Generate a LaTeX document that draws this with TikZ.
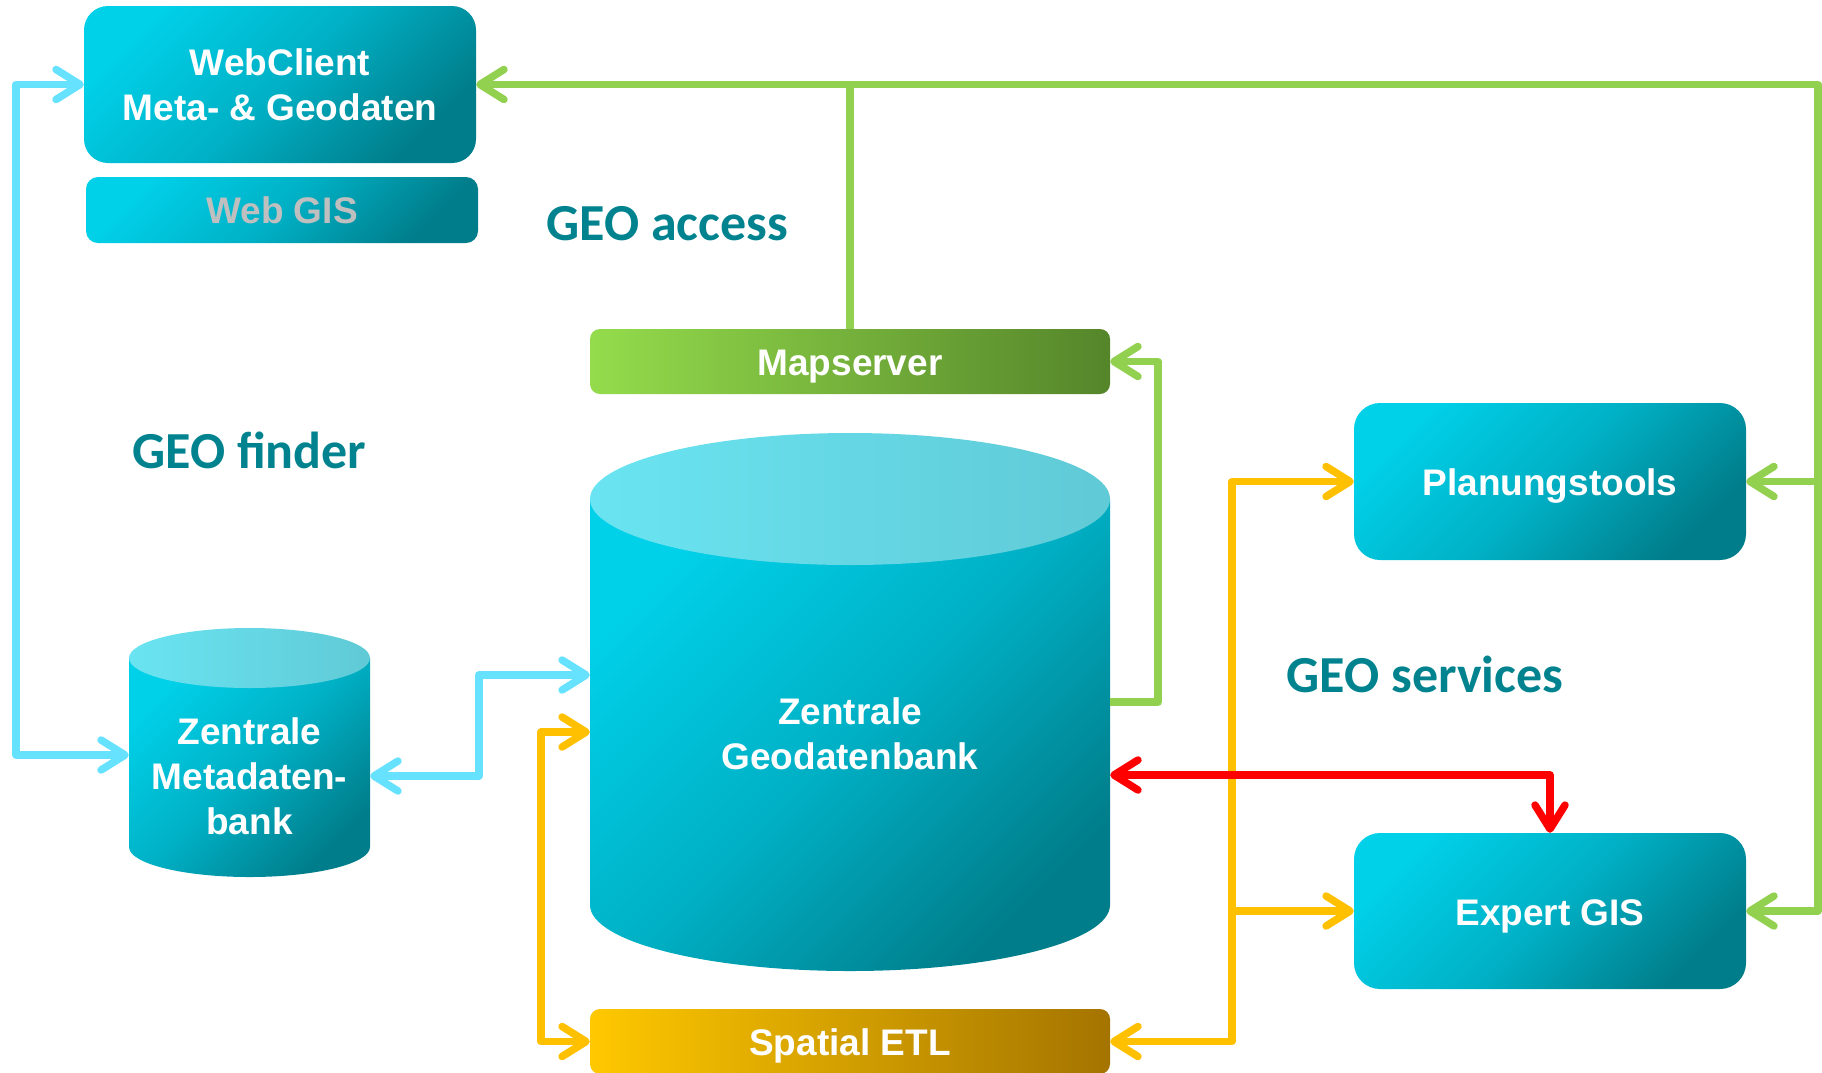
\documentclass[tikz,border=0pt]{standalone}
\usepackage{fontspec}
\setmainfont{Liberation Sans}
\newfontfamily\headfont{Carlito}
\usetikzlibrary{arrows.meta}

\definecolor{tealA}{HTML}{00D0E8}
\definecolor{tealB}{HTML}{00B0C5}
\definecolor{tealC}{HTML}{007D8A}
\definecolor{capA}{HTML}{6AE4F2}
\definecolor{capB}{HTML}{60CAD6}
\definecolor{mapA}{HTML}{94DC4C}
\definecolor{mapB}{HTML}{55852A}
\definecolor{etlA}{HTML}{FFC800}
\definecolor{etlB}{HTML}{A47400}
\definecolor{headC}{HTML}{00838F}
\definecolor{lnGreen}{HTML}{92D050}
\definecolor{lnBlue}{HTML}{66E2FF}
\definecolor{lnYellow}{HTML}{FFC000}
\definecolor{lnRed}{HTML}{FF0000}
\definecolor{gisGray}{HTML}{BFBFBF}

\begin{document}
\begin{tikzpicture}[x=1pt,y=-1pt,
  label text/.style={align=center, text=white, inner sep=0pt,
    font=\bfseries\fontsize{37}{45}\selectfont},
  oneline/.style={text height=28pt, text depth=0pt},
  tealbox/.style={label text, shade, top color=tealA, bottom color=tealC,
    middle color=tealB, shading angle=45, rounded corners=#1},
  tealbox/.default=26pt,
  mapbar/.style={label text, oneline, shade, left color=mapA, right color=mapB,
    rounded corners=10pt, minimum width=520pt, minimum height=65pt},
  etlbar/.style={label text, oneline, shade, left color=etlA, right color=etlB,
    rounded corners=10pt, minimum width=520pt, minimum height=65pt},
  cylbody/.style={shade, top color=tealA, bottom color=tealC,
    middle color=tealB, shading angle=45},
  cylcap/.style={shade, left color=capA, right color=capB},
  heading/.style={font=\headfont\bfseries\fontsize{52}{60}\selectfont,
    text=headC, anchor=base, inner sep=0pt},
  link/.style={line width=7.5pt, line join=round,
    >={Straight Barb[length=24pt,width=30pt,round]}},
  greenlink/.style={link, draw=lnGreen},
  bluelink/.style={link, draw=lnBlue},
  yellowlink/.style={link, draw=lnYellow},
  redlink/.style={link, draw=lnRed}]

\useasboundingbox (0,0) rectangle (1822,1072);

% --- database cylinders ---
\path[cylbody] (590,499) -- (590,905)
  arc[start angle=180, end angle=360, x radius=260pt, y radius=66pt]
  -- (1110,499) -- cycle;
\path[cylcap] (850,499) ellipse [x radius=260pt, y radius=66pt];

\path[cylbody] (129,658) -- (129,847)
  arc[start angle=180, end angle=360, x radius=120.5pt, y radius=30pt]
  -- (370,658) -- cycle;
\path[cylcap] (249.5,658) ellipse [x radius=120.5pt, y radius=30pt];

% --- nodes ---
\node[tealbox=24pt, minimum width=392pt, minimum height=157pt] (web)
  at (280,84.5) {WebClient\\Meta- \& Geodaten};
\node[tealbox=12pt, minimum width=392pt, minimum height=66pt, text=gisGray]
  (webgis) at (282,210) {Web GIS};
\node[mapbar] (map) at (850,361.5) {Mapserver};
\node[etlbar] (etl) at (850,1041.5) {Spatial ETL};
\node[tealbox, oneline, minimum width=392pt, minimum height=157pt] (plan)
  at (1550,481.5) {Planungstools};
\node[tealbox, oneline, minimum width=392pt, minimum height=156pt] (expert)
  at (1550,911) {Expert GIS};
\node[label text, minimum width=520pt, minimum height=470pt] (geo)
  at (850,734) {Zentrale\\Geodatenbank};
\node[label text, minimum width=241pt, minimum height=204pt] (meta)
  at (249.5,776) {Zentrale\\Metadaten-\\bank};

% --- section headings ---
\node[heading] (hAccess) at (667.5,240) {GEO access};
\node[heading] (hFinder) at (249.5,468) {GEO finder};
\node[heading] (hServices) at (1425,692) {GEO services};

% --- metadata links ---
\draw[bluelink,<->] (web.west) -- (16,84.5) |- (meta.west |- 0,755);
\draw[bluelink,<->] (meta.east |- 0,776) -- (479,776) |- (geo.west |- 0,675);

% --- ETL links ---
\draw[yellowlink,<->] (geo.west |- 0,732) -- (541,732) |- (etl.west);
\draw[yellowlink,<->] (etl.east) -- (1232,1041.5) |- (plan.west);
\draw[yellowlink,->] (1232,911) -- (expert.west);

% --- map service links ---
\draw[greenlink,->] (geo.east |- 0,702) -- (1158,702) |- (map.east);
\draw[greenlink,->] (map.north) |- (web.east);
\draw[greenlink,->] (map.north |- web.east) -- (1818,84.5) |- (expert.east);
\draw[greenlink,->] (1818,481.5) -- (plan.east);

% --- direct database access ---
\draw[redlink,<->] (geo.east |- 0,775) -| (expert.north);

\end{tikzpicture}
\end{document}
